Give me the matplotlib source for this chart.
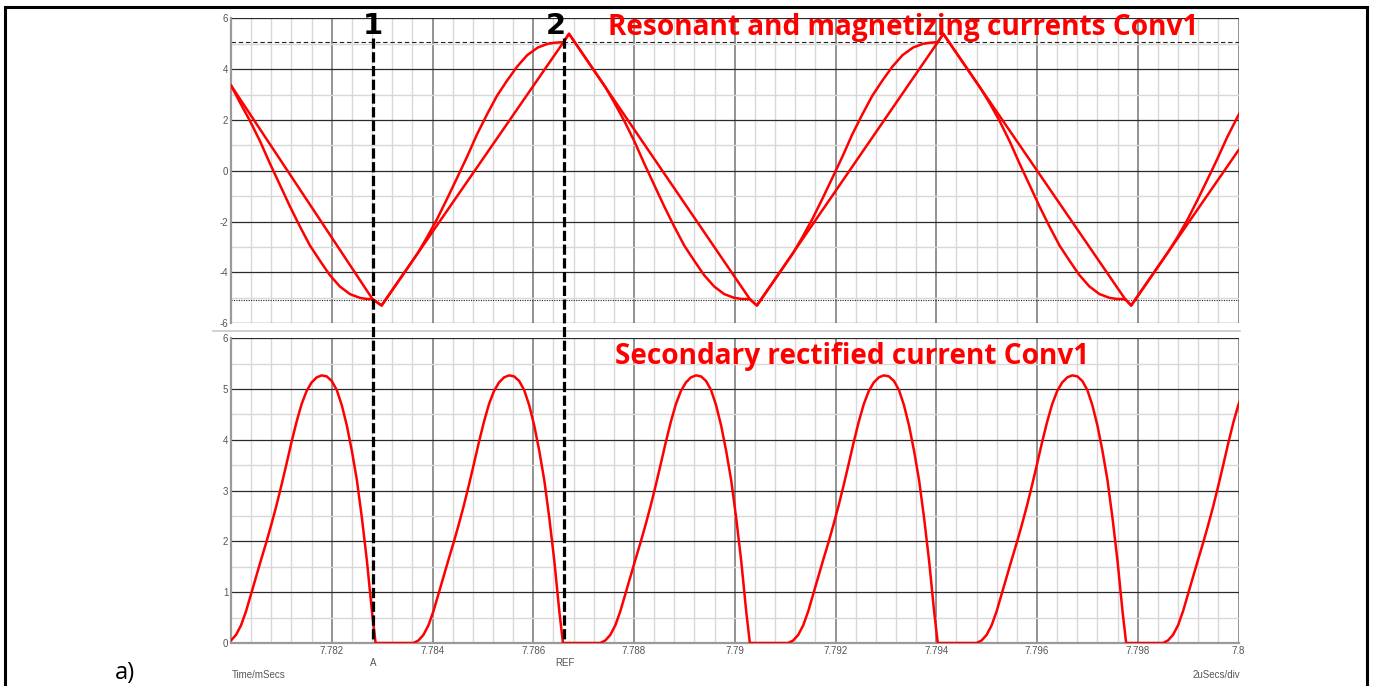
import matplotlib
matplotlib.use("Agg")
import matplotlib.pyplot as plt
import matplotlib.transforms as mtransforms
from matplotlib.lines import Line2D
from matplotlib.patches import Rectangle
from matplotlib.ticker import MultipleLocator, FixedLocator, FixedFormatter

plt.rcParams['axes.unicode_minus'] = False

T0_MS = 7.78  # time origin of the lists below (ms); lists are in microseconds after it

# ---- top panel: magnetizing current (triangle) ----
mag_t_us = [0.00, 2.81, 2.99, 6.60, 6.71, 10.30, 10.44, 14.03, 14.14, 17.75, 17.87, 20.00]
mag_i = [3.36, -5.05, -5.30, 5.06, 5.39, -5.05, -5.30, 5.06, 5.39, -5.05, -5.30, 0.81]

# ---- top panel: resonant current ----
res_t_us = [
    0.00, 0.18, 0.38, 0.58, 0.77, 0.97, 1.17, 1.37, 1.57, 1.77, 1.96, 2.16, 2.36, 2.56, 2.68, 2.81,
    2.99, 3.61,
    3.71, 3.89, 4.09, 4.29, 4.49, 4.69, 4.88, 5.08, 5.28, 5.48, 5.68, 5.88, 6.09, 6.29, 6.43, 6.60,
    6.71, 7.33,
    7.43, 7.61, 7.81, 8.01, 8.20, 8.40, 8.60, 8.80, 9.00, 9.20, 9.39, 9.59, 9.79, 9.99, 10.13, 10.30,
    10.44, 11.06,
    11.16, 11.34, 11.54, 11.74, 11.94, 12.14, 12.33, 12.53, 12.73, 12.93, 13.13, 13.33, 13.54, 13.74, 13.88, 14.03,
    14.14, 14.78,
    14.88, 15.06, 15.26, 15.46, 15.65, 15.85, 16.05, 16.25, 16.45, 16.65, 16.84, 17.04, 17.24, 17.44, 17.58, 17.75,
    17.87, 18.50,
    18.60, 18.78, 18.98, 19.18, 19.38, 19.58, 19.77, 19.97, 20.17,
]
res_i = [
    3.36, 2.68, 1.95, 1.15, 0.30, -0.55, -1.40, -2.20, -2.95, -3.55, -4.10, -4.55, -4.85, -5.00, -5.04, -5.05,
    -5.30, -3.52,
    -3.23, -2.62, -1.90, -1.10, -0.27, 0.57, 1.42, 2.21, 2.95, 3.55, 4.10, 4.55, 4.85, 5.00, 5.04, 5.06,
    5.39, 3.59,
    3.30, 2.68, 1.95, 1.15, 0.30, -0.55, -1.40, -2.20, -2.95, -3.55, -4.10, -4.55, -4.85, -5.00, -5.04, -5.05,
    -5.30, -3.52,
    -3.23, -2.62, -1.90, -1.10, -0.27, 0.57, 1.42, 2.21, 2.95, 3.55, 4.10, 4.55, 4.85, 5.00, 5.04, 5.06,
    5.39, 3.53,
    3.24, 2.66, 1.95, 1.15, 0.30, -0.55, -1.40, -2.20, -2.95, -3.55, -4.10, -4.55, -4.85, -5.00, -5.04, -5.05,
    -5.30, -3.49,
    -3.20, -2.64, -1.95, -1.17, -0.36, 0.47, 1.30, 2.08, 2.82,
]

# ---- bottom panel: secondary rectified current ----
sec_t_us = [
    -0.10, 0.00, 0.10, 0.20, 0.30, 0.40, 0.50, 0.60, 0.70, 0.80, 0.90, 1.00, 1.10, 1.20, 1.30, 1.40,
    1.50, 1.60, 1.70, 1.80, 1.90, 2.00, 2.10, 2.20, 2.30, 2.40, 2.50, 2.60, 2.70, 2.80, 2.87,
    3.62, 3.72, 3.82, 3.92, 4.02, 4.12, 4.22, 4.32, 4.42, 4.52, 4.62, 4.72, 4.82, 4.92, 5.02, 5.12,
    5.22, 5.32, 5.42, 5.52, 5.62, 5.72, 5.82, 5.92, 6.02, 6.12, 6.22, 6.32, 6.42, 6.52, 6.59,
    7.33, 7.43, 7.53, 7.63, 7.73, 7.83, 7.93, 8.03, 8.13, 8.23, 8.33, 8.43, 8.53, 8.63, 8.73, 8.83,
    8.93, 9.03, 9.13, 9.23, 9.33, 9.43, 9.53, 9.63, 9.73, 9.83, 9.93, 10.03, 10.13, 10.23, 10.30,
    11.06, 11.16, 11.26, 11.36, 11.46, 11.56, 11.66, 11.76, 11.86, 11.96, 12.06, 12.16, 12.26, 12.36, 12.46, 12.56,
    12.66, 12.76, 12.86, 12.96, 13.06, 13.16, 13.26, 13.36, 13.46, 13.56, 13.66, 13.76, 13.86, 13.96, 14.03,
    14.80, 14.90, 15.00, 15.10, 15.20, 15.30, 15.40, 15.50, 15.60, 15.70, 15.80, 15.90, 16.00, 16.10, 16.20, 16.30,
    16.40, 16.50, 16.60, 16.70, 16.80, 16.90, 17.00, 17.10, 17.20, 17.30, 17.40, 17.50, 17.60, 17.70, 17.77,
    18.50, 18.60, 18.70, 18.80, 18.90, 19.00, 19.10, 19.20, 19.30, 19.40, 19.50, 19.60, 19.70, 19.80, 19.90, 20.00,
    20.10,
]
sec_i = [
    0.00, 0.05, 0.16, 0.35, 0.63, 0.97, 1.31, 1.65, 1.98, 2.33, 2.70, 3.10, 3.52, 3.95, 4.35, 4.70,
    4.96, 5.13, 5.23, 5.27, 5.25, 5.16, 4.98, 4.68, 4.28, 3.78, 3.20, 2.45, 1.60, 0.60, 0.00,
    0.00, 0.05, 0.16, 0.35, 0.63, 0.97, 1.31, 1.65, 1.98, 2.33, 2.70, 3.10, 3.52, 3.95, 4.35, 4.70,
    4.96, 5.13, 5.23, 5.27, 5.25, 5.16, 4.98, 4.68, 4.28, 3.78, 3.20, 2.45, 1.60, 0.60, 0.00,
    0.00, 0.05, 0.16, 0.35, 0.63, 0.97, 1.31, 1.65, 1.98, 2.33, 2.70, 3.10, 3.52, 3.95, 4.35, 4.70,
    4.96, 5.13, 5.23, 5.27, 5.25, 5.16, 4.98, 4.68, 4.28, 3.78, 3.20, 2.45, 1.60, 0.60, 0.00,
    0.00, 0.05, 0.16, 0.35, 0.63, 0.97, 1.31, 1.65, 1.98, 2.33, 2.70, 3.10, 3.52, 3.95, 4.35, 4.70,
    4.96, 5.13, 5.23, 5.27, 5.25, 5.16, 4.98, 4.68, 4.28, 3.78, 3.20, 2.45, 1.60, 0.60, 0.00,
    0.00, 0.05, 0.16, 0.35, 0.63, 0.97, 1.31, 1.65, 1.98, 2.33, 2.70, 3.10, 3.52, 3.95, 4.35, 4.70,
    4.96, 5.13, 5.23, 5.27, 5.25, 5.16, 4.98, 4.68, 4.28, 3.78, 3.20, 2.45, 1.60, 0.60, 0.00,
    0.00, 0.05, 0.16, 0.35, 0.63, 0.97, 1.31, 1.65, 1.98, 2.33, 2.70, 3.10, 3.52, 3.95, 4.35, 4.70,
    4.96,
]

x_ticks_ms = [7.780, 7.782, 7.784, 7.786, 7.788, 7.790, 7.792, 7.794, 7.796, 7.798, 7.800]
x_tick_labels = ['', '7.782', '7.784', '7.786', '7.788', '7.79', '7.792', '7.794', '7.796', '7.798', '7.8']
top_y_ticks = [-6, -4, -2, 0, 2, 4, 6]
bot_y_ticks = [0, 1, 2, 3, 4, 5, 6]
top_ref_levels = [5.07, -5.07]

cursor_1_us = 2.82
cursor_2_us = 6.62

title_top = "Resonant and magnetizing currents Conv1"
title_bot = "Secondary rectified current Conv1"


def to_ms(lst):
    return [T0_MS + v / 1000.0 for v in lst]


W, H = 1375, 686
fig = plt.figure(figsize=(W / 100, H / 100), dpi=100)

L = 231 / W
R = 1238.5 / W
ax_top = fig.add_axes([L, 1 - 323.3 / H, R - L, (323.3 - 18.3) / H])
ax_bot = fig.add_axes([L, 1 - 643.0 / H, R - L, (643.0 - 338.3) / H])

tick_font = dict(family=['Liberation Sans Narrow', 'Liberation Sans', 'DejaVu Sans'], size=7, color='#555555')
RED = '#ff0000'

for ax in (ax_top, ax_bot):
    ax.set_xlim(7.780, 7.800)
    ax.set_axisbelow(True)
    ax.xaxis.set_major_locator(FixedLocator(x_ticks_ms))
    ax.xaxis.set_minor_locator(MultipleLocator(0.0004))
    ax.grid(which='minor', color='#d8d8d8', lw=1.0)
    ax.grid(which='major', axis='x', color='#8a8a8a', lw=1.3)
    ax.grid(which='major', axis='y', color='#2a2a2a', lw=0.9)
    ax.tick_params(which='both', length=0)
    for s in ('top', 'right', 'bottom'):
        ax.spines[s].set_visible(False)
    ax.spines['left'].set_color('#9a9a9a')
    ax.spines['left'].set_linewidth(1.6)

ax_top.set_ylim(-6, 6)
ax_top.yaxis.set_major_locator(FixedLocator(top_y_ticks))
ax_top.yaxis.set_major_formatter(FixedFormatter([str(v) for v in top_y_ticks]))
ax_top.yaxis.set_minor_locator(MultipleLocator(1))
ax_top.set_xticklabels([])

ax_bot.set_ylim(0, 6)
ax_bot.yaxis.set_major_locator(FixedLocator(bot_y_ticks))
ax_bot.yaxis.set_major_formatter(FixedFormatter([str(v) for v in bot_y_ticks]))
ax_bot.yaxis.set_minor_locator(MultipleLocator(0.5))
ax_bot.xaxis.set_major_formatter(FixedFormatter(x_tick_labels))
ax_bot.spines['bottom'].set_visible(True)
ax_bot.spines['bottom'].set_color('#9a9a9a')
ax_bot.spines['bottom'].set_linewidth(1.6)

for ax in (ax_top, ax_bot):
    ax.tick_params(axis='y', pad=2)
    ax.tick_params(axis='x', pad=2.5)
    for lbl in ax.get_yticklabels() + ax.get_xticklabels():
        lbl.set_fontfamily(tick_font['family'])
        lbl.set_fontsize(tick_font['size'])
        lbl.set_color(tick_font['color'])

# reference levels
ax_top.axhline(top_ref_levels[0], color='#222222', lw=0.8, dashes=(4, 2.5), zorder=2)
ax_top.axhline(top_ref_levels[1], color='#222222', lw=0.8, dashes=(1, 1.2), zorder=2)

# data curves
ax_top.plot(to_ms(mag_t_us), mag_i, color=RED, lw=1.8, zorder=4, solid_joinstyle='round')
ax_top.plot(to_ms(res_t_us), res_i, color=RED, lw=1.8, zorder=4, solid_joinstyle='round')
ax_bot.plot(to_ms(sec_t_us), sec_i, color=RED, lw=1.8, zorder=4, solid_joinstyle='round')

# separator between the panels
fig.add_artist(Line2D([213 / W, 1240 / W], [1 - 330.5 / H] * 2, color='#c8c8c8', lw=1.2))

# cursors (vertical dashed lines across both panels)
blend = mtransforms.blended_transform_factory(ax_bot.transData, fig.transFigure)
for c_us, lab, lab_dx in ((cursor_1_us, '1', 0.0), (cursor_2_us, '2', -0.17)):
    xm = T0_MS + c_us / 1000.0
    fig.add_artist(Line2D([xm, xm], [1 - 38 / H, 1 - 640 / H], transform=blend,
                          color='black', lw=2.3, dashes=(3.2, 1.1), zorder=10))
    fig.text(xm + lab_dx / 1000.0, 1 - 34 / H, lab, transform=blend, ha='center', va='baseline',
             fontsize=21, fontweight='bold', family='DejaVu Sans', color='black')

# cursor names under the x axis
fig.text(T0_MS + cursor_1_us / 1000.0, 1 - 665.5 / H, 'A', transform=blend, ha='center',
         va='baseline', **tick_font)
fig.text(T0_MS + cursor_2_us / 1000.0, 1 - 665.5 / H, 'REF', transform=blend, ha='center',
         va='baseline', **tick_font)
fig.text(231.5 / W, 1 - 678 / H, 'Time/mSecs', ha='left', va='baseline', **tick_font)
fig.text(1240 / W, 1 - 678 / H, '2uSecs/div', ha='right', va='baseline', **tick_font)

# red titles
fig.text(608 / W, 1 - 35 / H, title_top, ha='left', va='baseline', color=RED,
         fontsize=20.2, fontweight='bold', family='Open Sans')
fig.text(615 / W, 1 - 364 / H, title_bot, ha='left', va='baseline', color=RED,
         fontsize=20.2, fontweight='bold', family='Open Sans')

# panel label
fig.text(115 / W, 1 - 679 / H, 'a)', ha='left', va='baseline', fontsize=17, color='black',
         family='Open Sans')

# outer frame
fig.add_artist(Rectangle((5 / W, -0.05), (1367 - 5) / W, (1 - 7 / H) + 0.05,
                         transform=fig.transFigure, fill=False, ec='black', lw=2.2))

fig.savefig('out.png', dpi=100)
